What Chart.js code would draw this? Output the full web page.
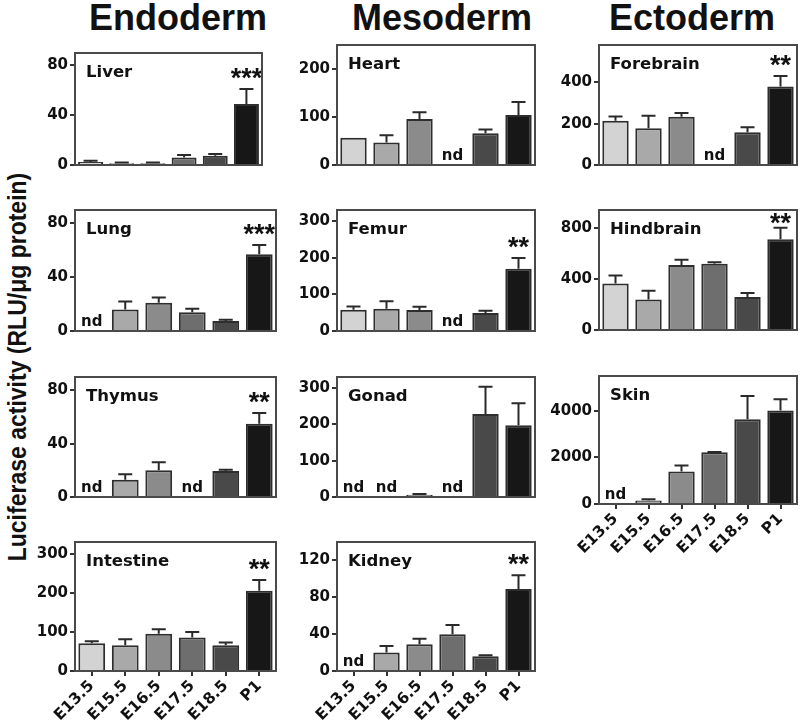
<!DOCTYPE html>
<html><head><meta charset="utf-8">
<script src="https://cdn.jsdelivr.net/npm/chart.js@4.4.1/dist/chart.umd.min.js"></script>
<style>
html,body{margin:0;padding:0;background:#fff;}
body{width:800px;height:723px;position:relative;overflow:hidden;font-family:"Liberation Sans",Arial,sans-serif;}
canvas{position:absolute;}
.title{position:absolute;top:0;font-weight:bold;font-size:36px;line-height:36px;transform:translateX(-50%);white-space:nowrap;color:#111;}
#ylab{position:absolute;left:17px;top:367px;font-weight:bold;font-size:23px;line-height:23px;white-space:nowrap;color:#111;transform:translate(-50%,-50%) rotate(-90deg) scaleY(1.15);}
</style></head><body>
<div class="title" style="left:178px">Endoderm</div>
<div class="title" style="left:442px">Mesoderm</div>
<div class="title" style="left:692px">Ectoderm</div>
<div id="ylab">Luciferase activity (RLU/μg protein)</div>
<script>
// ---------- data ----------
const categories = ['E13.5', 'E15.5', 'E16.5', 'E17.5', 'E18.5', 'P1'];
const barColors = ['#d3d3d3', '#a9a9a9', '#8b8b8b', '#6e6e6e', '#494949', '#171717'];

const liverMean = [2.5, 1.5, 1.5, 6, 7.5, 49];
const liverErr  = [1, 0.5, 0.5, 2, 1.3, 12];
const liverTicks = [0, 40, 80];

const lungMean = [null, 16, 21, 14, 7.5, 57];
const lungErr  = [null, 6, 4, 2.5, 0.8, 7];
const lungTicks = [0, 40, 80];

const thymusMean = [null, 13, 20, null, 19.5, 55];
const thymusErr  = [null, 4, 6, null, 1, 8];
const thymusTicks = [0, 40, 80];

const intestineMean = [71, 66, 95, 86, 66, 205];
const intestineErr  = [5, 15, 12, 14, 7, 28];
const intestineTicks = [0, 100, 200, 300];

const heartMean = [57, 47, 96, null, 66, 104];
const heartErr  = [null, 15, 14, null, 8, 27];
const heartTicks = [0, 100, 200];

const femurMean = [58, 61, 57, null, 49, 170];
const femurErr  = [9, 20, 9, null, 6, 29];
const femurTicks = [0, 100, 200, 300];

const gonadMean = [null, null, 6, null, 228, 197];
const gonadErr  = [null, null, 2, null, 75, 61];
const gonadTicks = [0, 100, 200, 300];

const kidneyMean = [null, 20, 29, 40, 16, 89];
const kidneyErr  = [null, 7, 6, 10, 1, 15];
const kidneyTicks = [0, 40, 80, 120];

const forebrainMean = [214, 178, 233, null, 158, 380];
const forebrainErr  = [20, 60, 18, null, 25, 50];
const forebrainTicks = [0, 200, 400];

const hindbrainMean = [365, 238, 510, 518, 258, 710];
const hindbrainErr  = [62, 70, 40, 12, 32, 90];
const hindbrainTicks = [0, 400, 800];

const skinMean = [null, 150, 1400, 2220, 3640, 4020];
const skinErr  = [null, 50, 250, 10, 1000, 480];
const skinTicks = [0, 2000, 4000];

// ---------- panel layout ----------
const panels = [
  {name:'Liver',     mean:liverMean,     err:liverErr,     ticks:liverTicks,     max:90,   sig:'***', box:[75,48,262,172],  bottom:false},
  {name:'Lung',      mean:lungMean,      err:lungErr,      ticks:lungTicks,      max:90,   sig:'***', box:[75,205,276,338], bottom:false},
  {name:'Thymus',    mean:thymusMean,    err:thymusErr,    ticks:thymusTicks,    max:90,   sig:'**',  box:[75,372,276,504], bottom:false},
  {name:'Intestine', mean:intestineMean, err:intestineErr, ticks:intestineTicks, max:330,  sig:'**',  box:[75,537,276,671], bottom:true},
  {name:'Heart',     mean:heartMean,     err:heartErr,     ticks:heartTicks,     max:250,  sig:'',    box:[337,40,535,172], bottom:false},
  {name:'Femur',     mean:femurMean,     err:femurErr,     ticks:femurTicks,     max:330,  sig:'**',  box:[337,205,535,338],bottom:false},
  {name:'Gonad',     mean:gonadMean,     err:gonadErr,     ticks:gonadTicks,     max:330,  sig:'',    box:[337,372,535,504],bottom:false},
  {name:'Kidney',    mean:kidneyMean,    err:kidneyErr,    ticks:kidneyTicks,    max:140,  sig:'**',  box:[337,537,535,671],bottom:true},
  {name:'Forebrain', mean:forebrainMean, err:forebrainErr, ticks:forebrainTicks, max:580,  sig:'**',  box:[599,40,797,172], bottom:false},
  {name:'Hindbrain', mean:hindbrainMean, err:hindbrainErr, ticks:hindbrainTicks, max:940,  sig:'**',  box:[599,205,797,337],bottom:false},
  {name:'Skin',      mean:skinMean,      err:skinErr,      ticks:skinTicks,      max:5500, sig:'',    box:[599,371,797,504],bottom:true}
];

const TXT = '#111';
const tickFont = {family:'"DejaVu Sans"', weight:'bold', size:15};

const decoPlugin = {
  id: 'deco',
  afterDraw(chart) {
    const p = chart.options.plugins.deco.panel;
    const {ctx, chartArea: a} = chart;
    const y = chart.scales.y, x = chart.scales.x;
    const meta = chart.getDatasetMeta(0);
    ctx.save();
    // error bars (upper only)
    ctx.strokeStyle = '#2a2a2a';
    ctx.lineWidth = 2;
    p.mean.forEach((m, i) => {
      if (m == null || p.err[i] == null) return;
      const bx = meta.data[i].x;
      const y0 = y.getPixelForValue(m);
      const y1 = y.getPixelForValue(m + p.err[i]);
      ctx.beginPath();
      ctx.moveTo(bx, y0); ctx.lineTo(bx, y1);
      ctx.moveTo(bx - 7, y1); ctx.lineTo(bx + 7, y1);
      ctx.stroke();
    });
    // nd labels
    ctx.fillStyle = TXT;
    ctx.textAlign = 'center';
    ctx.textBaseline = 'alphabetic';
    ctx.font = 'bold 15px "DejaVu Sans"';
    p.mean.forEach((m, i) => {
      if (m == null) ctx.fillText('nd', x.getPixelForValue(i), y.getPixelForValue(0) - 5);
    });
    // significance
    if (p.sig) {
      const i = p.mean.length - 1;
      ctx.font = 'bold 27px "Liberation Sans"';
      const base = Math.max(y.getPixelForValue(p.mean[i] + p.err[i]) - 2, a.top + 22);
      ctx.fillText(p.sig, meta.data[i].x, base);
    }
    // panel name
    ctx.textAlign = 'left';
    ctx.textBaseline = 'top';
    ctx.font = 'bold 16.5px "DejaVu Sans"';
    ctx.fillText(p.name, a.left + 11, a.top + 11);
    // frame
    ctx.strokeStyle = '#4a4a4a';
    ctx.lineWidth = 2;
    ctx.strokeRect(a.left, a.top, a.right - a.left, a.bottom - a.top);
    ctx.restore();
  }
};

panels.forEach(p => {
  const [l, t, r, b] = p.box;
  const c = document.createElement('canvas');
  const W = (r - l) + 60 + 4;
  const H = (b - t) + 6 + (p.bottom ? 52 : 4);
  c.width = W; c.height = H;
  c.style.left = (l - 60) + 'px';
  c.style.top = (t - 6) + 'px';
  c.style.width = W + 'px'; c.style.height = H + 'px';
  document.body.appendChild(c);
  new Chart(c, {
    type: 'bar',
    data: {
      labels: categories,
      datasets: [{
        data: p.mean,
        backgroundColor: barColors,
        borderColor: '#2e2e2e',
        borderWidth: 2,
        barPercentage: 0.8,
        categoryPercentage: 1.0
      }]
    },
    options: {
      responsive: false,
      animation: false,
      devicePixelRatio: 1,
      layout: {padding: {top: 6, right: 4, bottom: p.bottom ? 0 : 4, left: 0}},
      plugins: {legend: {display: false}, tooltip: {enabled: false}, deco: {panel: p}},
      scales: {
        x: {
          afterFit: s => { s.height = p.bottom ? 52 : 0; },
          ticks: {display: p.bottom, minRotation: 45, maxRotation: 45, font: {family:'"DejaVu Sans"', weight:'bold', size:15.5}, color: TXT, padding: 1, autoSkip: false},
          grid: {display: p.bottom, drawOnChartArea: false, offset: false, tickLength: 5, color: '#333', lineWidth: 2},
          border: {display: false}
        },
        y: {
          min: 0, max: p.max,
          afterBuildTicks: s => { s.ticks = p.ticks.map(v => ({value: v})); },
          afterFit: s => { s.width = 60; },
          ticks: {font: tickFont, color: TXT, padding: 2, callback: v => String(v)},
          grid: {display: true, drawOnChartArea: false, tickLength: 5, color: '#333', lineWidth: 2},
          border: {display: false}
        }
      }
    },
    plugins: [decoPlugin]
  });
});
</script>
</body></html>
